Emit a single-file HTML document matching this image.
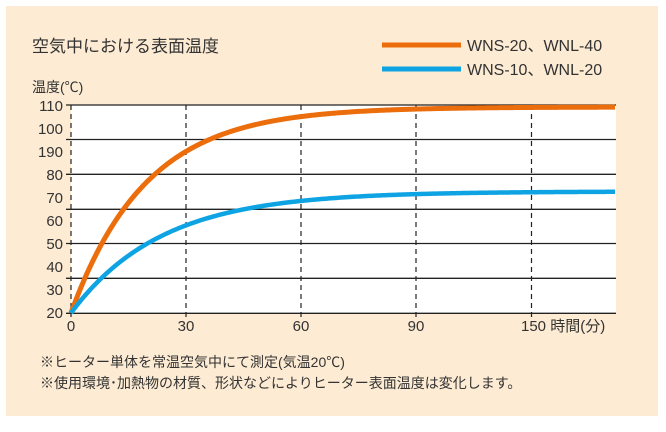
<!DOCTYPE html>
<html><head><meta charset="utf-8"><style>
body{margin:0;background:#fff;}
svg text{font-family:"Liberation Sans","Noto Sans CJK JP",sans-serif;fill:#333;}
</style></head><body>
<svg width="666" height="427" viewBox="0 0 666 427" xmlns="http://www.w3.org/2000/svg">
<rect x="6" y="6" width="652" height="410" fill="#fdebd3"/>
<rect x="71" y="105" width="545" height="208" fill="#fff"/>
<text x="32" y="52" font-size="17">空気中における表面温度</text>
<line x1="382" y1="45" x2="461" y2="45" stroke="#ec6d0c" stroke-width="5"/>
<line x1="382" y1="69" x2="461" y2="69" stroke="#0ea3e2" stroke-width="5"/>
<text x="467" y="51" font-size="16">WNS-20、WNL-40</text>
<text x="467" y="75" font-size="16">WNS-10、WNL-20</text>
<text x="32" y="92" font-size="14">温度(℃)</text>
<g stroke="#222" stroke-width="1.3">
<line x1="66" y1="105" x2="616" y2="105"/>
<line x1="66" y1="139.5" x2="616" y2="139.5"/>
<line x1="66" y1="174.3" x2="616" y2="174.3"/>
<line x1="66" y1="209.3" x2="616" y2="209.3"/>
<line x1="66" y1="243.5" x2="616" y2="243.5"/>
<line x1="66" y1="278.3" x2="616" y2="278.3"/>
<line x1="66" y1="313.3" x2="616" y2="313.3"/>
</g>
<g stroke="#222" stroke-width="1.2" stroke-dasharray="5,4">
<line x1="71" y1="105" x2="71" y2="318"/>
<line x1="186" y1="105" x2="186" y2="318"/>
<line x1="301" y1="105" x2="301" y2="318"/>
<line x1="416" y1="105" x2="416" y2="318"/>
<line x1="531.5" y1="105" x2="531.5" y2="318"/>
</g>
<g font-size="15" text-anchor="end">
<text x="63" y="111">110</text><text x="63" y="134">100</text><text x="63" y="157">190</text>
<text x="63" y="180">80</text><text x="63" y="203">70</text><text x="63" y="226">60</text>
<text x="63" y="249">50</text><text x="63" y="272">40</text><text x="63" y="295">30</text>
<text x="63" y="318">20</text>
</g>
<g font-size="15" text-anchor="middle">
<text x="71" y="331">0</text><text x="186" y="331">30</text><text x="301" y="331">60</text>
<text x="416" y="331">90</text>
</g>
<text x="521" y="331" font-size="15">150 時間(分)</text>
<path id="o" fill="none" stroke="#ec6d0c" stroke-width="5" d=""/>
<path id="b" fill="none" stroke="#0ea3e2" stroke-width="4.5" d=""/>
<text x="40" y="367" font-size="14">※ヒーター単体を常温空気中にて測定(気温20℃)</text>
<text x="40" y="388" font-size="14">※使用環境･加熱物の材質、形状などによりヒーター表面温度は変化します。</text>
<script>
function mk(id,top,tau){var d="";for(var x=71;x<=616;x+=2){var y=top+(313-top)*Math.exp(-(x-71)/tau);d+=(x==71?"M":"L")+x+","+y.toFixed(2);}document.getElementById(id).setAttribute("d",d);}
mk("o",107,75);mk("b",191.5,90);
</script>
</svg>
</body></html>
